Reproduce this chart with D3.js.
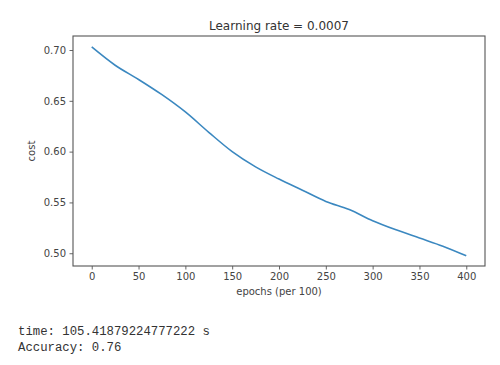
<!DOCTYPE html>
<html>
<head>
<meta charset="utf-8">
<script src="https://cdn.jsdelivr.net/npm/d3@7"></script>
<style>
  body { margin: 0; background: #fff; }
</style>
</head>
<body>
<div id="chart"></div>
<script>
// cost, every 25 epochs (per 100)
var epochs = [0, 25, 50, 75, 100, 125, 150, 175, 200, 225, 250, 275, 300, 325, 350, 375, 400];
var costs = [0.703, 0.685, 0.671, 0.656, 0.639, 0.619, 0.600, 0.585, 0.573, 0.562, 0.551, 0.543, 0.532, 0.523, 0.515, 0.507, 0.4975];
var xTicks = [0, 50, 100, 150, 200, 250, 300, 350, 400];
var yTicks = [0.50, 0.55, 0.60, 0.65, 0.70];
var title = "Learning rate = 0.0007";
var outputLines = ["time: 105.41879224777222 s", "Accuracy: 0.76"];

(function() {
  var width = 500, height = 365;
  var mLeft = 73, mTop = 36, mRight = 485, mBottom = 266;
  var sans = "DejaVu Sans, sans-serif";

  var svg = d3.select("#chart").append("svg")
    .attr("width", width)
    .attr("height", height);

  var x = d3.scaleLinear().domain([-20, 420]).range([mLeft, mRight]);
  var y = d3.scaleLinear().domain([0.48745, 0.71378]).range([mBottom, mTop]);

  var points = epochs.map(function(e, i) { return [e, costs[i]]; });

  // x axis
  var xAxis = svg.append("g")
    .attr("transform", "translate(0," + mBottom + ")")
    .call(d3.axisBottom(x).tickValues(xTicks).tickSize(3.5).tickPadding(3.5).tickFormat(d3.format("d")));

  // y axis
  var yAxis = svg.append("g")
    .attr("transform", "translate(" + mLeft + ",0)")
    .call(d3.axisLeft(y).tickValues(yTicks).tickSize(3.5).tickPadding(3.5).tickFormat(d3.format(".2f")));

  [xAxis, yAxis].forEach(function(a) {
    a.select(".domain").remove();
    a.selectAll("line").attr("stroke", "#555").attr("stroke-width", 0.9);
    a.selectAll("text").attr("fill", "#444").attr("font-size", 10)
      .attr("font-family", sans);
  });

  // frame
  svg.append("rect")
    .attr("x", mLeft).attr("y", mTop)
    .attr("width", mRight - mLeft).attr("height", mBottom - mTop)
    .attr("fill", "none").attr("stroke", "#555").attr("stroke-width", 1.1);

  // cost line
  svg.append("path")
    .datum(points)
    .attr("fill", "none")
    .attr("stroke", "#3b88c0")
    .attr("stroke-width", 1.6)
    .attr("d", d3.line()
      .x(function(d) { return x(d[0]); })
      .y(function(d) { return y(d[1]); })
      .curve(d3.curveMonotoneX));

  svg.append("text")
    .attr("x", (mLeft + mRight) / 2).attr("y", 30)
    .attr("text-anchor", "middle")
    .attr("font-family", sans)
    .attr("font-size", 12).attr("fill", "#333")
    .text(title);

  svg.append("text")
    .attr("x", (mLeft + mRight) / 2).attr("y", 295)
    .attr("text-anchor", "middle")
    .attr("font-family", sans)
    .attr("font-size", 10).attr("fill", "#444")
    .text("epochs (per 100)");

  svg.append("text")
    .attr("transform", "translate(35," + (mTop + mBottom) / 2 + ") rotate(-90)")
    .attr("text-anchor", "middle")
    .attr("font-family", sans)
    .attr("font-size", 10).attr("fill", "#444")
    .text("cost");

  // printed output under the plot
  svg.selectAll(".out")
    .data(outputLines)
    .enter().append("text")
    .attr("class", "out")
    .attr("x", 18)
    .attr("y", function(d, i) { return 335 + i * 16; })
    .attr("font-family", "Liberation Mono, monospace")
    .attr("font-size", 12.3)
    .attr("fill", "#333")
    .text(function(d) { return d; });
})();
</script>
</body>
</html>
